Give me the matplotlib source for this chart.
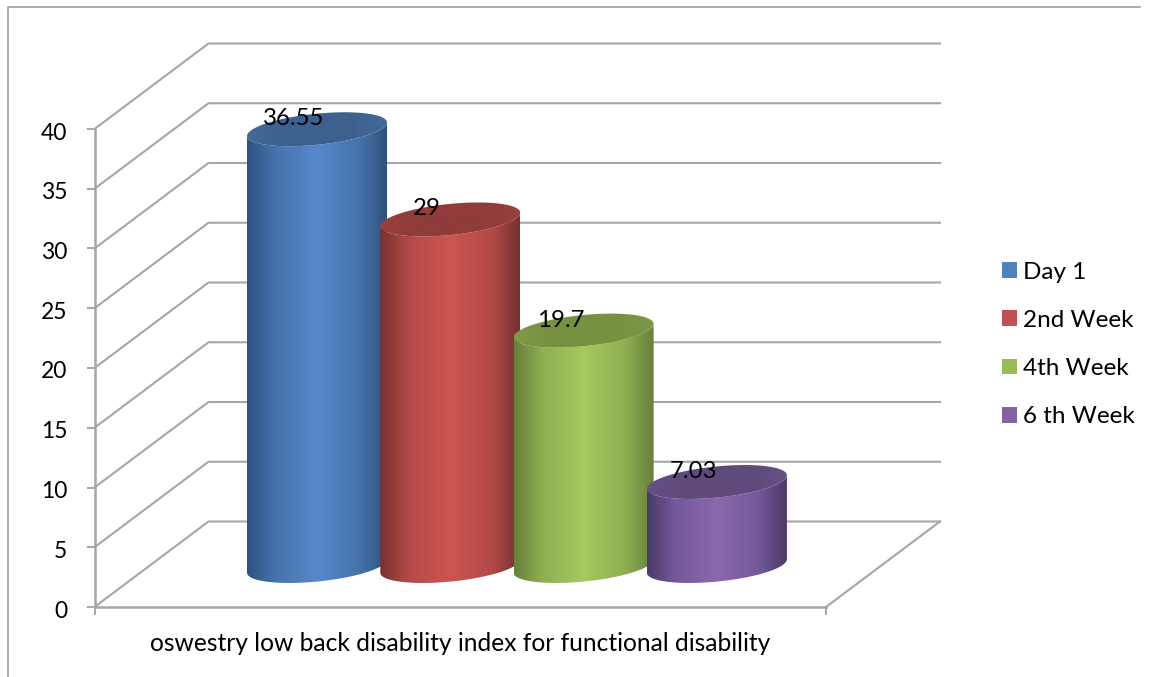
import numpy as np
import matplotlib
matplotlib.use('Agg')
import matplotlib.pyplot as plt
from matplotlib.colors import LinearSegmentedColormap
from matplotlib.patches import PathPatch, Patch
from matplotlib.path import Path
from matplotlib.lines import Line2D
from matplotlib.transforms import ScaledTranslation

plt.rcParams['font.family'] = ['Lato', 'DejaVu Sans']

# chart data
weeks = ['Day 1', '2nd Week', '4th Week', '6 th Week']
scores = [36.55, 29, 19.7, 7.03]
y_ticks = [0, 5, 10, 15, 20, 25, 30, 35, 40]
x_title = 'oswestry low back disability index for functional disability'

# colours for each cylinder: edge shade, middle shade, highlight, cap
legend_colors = ['#4f81bd', '#c0504d', '#9bbb59', '#8064a2']
dark_shades = ['#2f527f', '#763130', '#66803a', '#4b3a68']
mid_shades = ['#4673ab', '#b24a47', '#8fae51', '#73589a']
light_shades = ['#5688cc', '#cd5550', '#a6ca5e', '#8c68ad']
cap_colors = ['#3d618f', '#8f3c3a', '#76913f', '#5f4a7c']
cap_rims = ['#44699a', '#9a403e', '#7f9a47', '#675184']

GRID = '#a6a6a6'
W, H = 1149, 677

fig = plt.figure(figsize=(W / 100, H / 100), dpi=100)
# axes box is the front plane of the 3d chart, x units are pixels
ax = fig.add_axes([94.5 / W, (H - 607) / H, 731.5 / W, 478 / H])
ax.set_xlim(0, 731.5)
ax.set_ylim(0, 40)
px = 478 / 40  # pixels per score unit

# depth of the chart box
depth_x = 114
depth_y = 85.5 / px

# back wall and side wall gridlines
for t in y_ticks:
    ax.plot([0, depth_x, 731.5 + depth_x], [t, t + depth_y, t + depth_y],
            color=GRID, lw=1.5, clip_on=False, zorder=1, solid_joinstyle='miter')
ax.plot([731.5, 731.5 + depth_x], [0, depth_y], color=GRID, lw=1.5, clip_on=False, zorder=1)


def arc(cx, cy, half_w, sign):
    # one half of a sheared ellipse, left to right
    angle = np.linspace(np.pi, 0, 120)
    xs = half_w * np.cos(angle)
    ys = 0.096 * xs + sign * 15.6 * np.sin(angle)
    return cx + xs, cy + ys / px


def shaded(path, cmap, x0, x1, y0, y1, z):
    grad = np.linspace(0, 1, 256).reshape(1, -1)
    im = ax.imshow(grad, cmap=cmap, extent=[x0, x1, y0, y1], aspect='auto', zorder=z)
    patch = PathPatch(path, transform=ax.transData, fc='none', ec='none')
    ax.add_patch(patch)
    patch.set_clip_on(False)
    im.set_clip_path(patch)
    im.set_clip_box(fig.bbox)


# cylinders, later ones sit in front of earlier ones
half_w = 70
first_x = 222.5
spacing = 133.3
base = 41 / px
for i, v in enumerate(scores):
    cx = first_x + spacing * i
    top = base + v
    bx, by = arc(cx, base, half_w, -1)
    tx, ty = arc(cx, top, half_w, -1)
    ux, uy = arc(cx, top, half_w, 1)

    body_x = np.concatenate([bx, tx[::-1]])
    body_y = np.concatenate([by, ty[::-1]])
    body = Path(np.column_stack([body_x, body_y]))
    cmap = LinearSegmentedColormap.from_list('body', [
        (0, dark_shades[i]), (0.2, mid_shades[i]), (0.5, light_shades[i]),
        (0.8, mid_shades[i]), (1, dark_shades[i])])
    shaded(body, cmap, cx - half_w, cx + half_w, base - 3, top + 3, 3 + i)

    cap_x = np.concatenate([tx, ux[::-1]])
    cap_y = np.concatenate([ty, uy[::-1]])
    cap = Path(np.column_stack([cap_x, cap_y]))
    cmap = LinearSegmentedColormap.from_list('cap', [
        (0, cap_rims[i]), (0.25, cap_colors[i]), (0.75, cap_colors[i]), (1, cap_rims[i])])
    shaded(cap, cmap, cx - half_w, cx + half_w, top - 3, top + 3, 3 + i)

    ax.text(cx - 23, top + 0.88, f'{v:g}', ha='center', va='center', fontsize=17.3,
            color='black', clip_on=False, zorder=20)

ax.set_xlim(0, 731.5)
ax.set_ylim(0, 40)

# axes
for side in ['top', 'right']:
    ax.spines[side].set_visible(False)
for side in ['left', 'bottom']:
    ax.spines[side].set_color(GRID)
    ax.spines[side].set_linewidth(1.8)
    ax.spines[side].set_zorder(2)
ax.patch.set_visible(False)
ax.set_yticks(y_ticks)
ax.set_xticks([0, 731.5])
ax.set_xticklabels([])
ax.tick_params(axis='y', length=5.5, width=1.4, color=GRID, pad=14, labelsize=16.5)
ax.tick_params(axis='x', length=5.5, width=1.4, color=GRID)
# nudge the number labels down so they sit level with the ticks
nudge = ScaledTranslation(0, -2 / 100, fig.dpi_scale_trans)
for lab in ax.get_yticklabels():
    lab.set_transform(lab.get_transform() + nudge)
ax.set_xlabel(x_title, fontsize=17.7, labelpad=9)

# legend on the right
handles = [Patch(fc=c, ec='none') for c in legend_colors]
fig.legend(handles, weeks, loc='center left', bbox_to_anchor=(1002 / W, 1 - 344.5 / H),
           frameon=False, fontsize=17.5, borderpad=0, borderaxespad=0,
           handlelength=0.62, handleheight=0.62, handletextpad=0.25, labelspacing=1.12)

# thin frame around the chart, only top and left are in view
fig.add_artist(Line2D([8 / W, 8 / W, 1140 / W], [0, 1 - 7 / H, 1 - 7 / H],
                      color='#a0a0a0', lw=1.2))

fig.savefig('out.png', dpi=100)
